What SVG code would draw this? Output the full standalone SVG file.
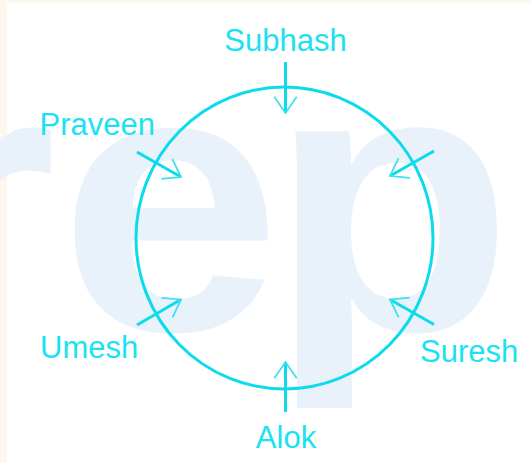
<svg xmlns="http://www.w3.org/2000/svg" width="531" height="463" viewBox="0 0 531 463">
  <defs>
    <style>
      .label { font-family: "Liberation Sans", Arial, sans-serif; font-size: 31px; fill: #1ae2f1; }
      .shaft { stroke: #0cdbec; stroke-width: 3; fill: none; stroke-linecap: butt; }
      .ring { stroke: #0cdbec; stroke-width: 3; fill: none; }
      .wm { font-family: "Liberation Sans", Arial, sans-serif; font-weight: bold; font-size: 400px; fill: #e9f1fb; }
    </style>
    <marker id="arrow" markerUnits="userSpaceOnUse" markerWidth="30" markerHeight="30" viewBox="-16 -12 20 24" refX="0" refY="0" orient="auto">
      <path d="M -13 -9 L 0 0 L -13 9" fill="none" stroke="#3ae2ef" stroke-width="1.4"/>
    </marker>
  </defs>

  <rect x="0" y="0" width="531" height="463" fill="#ffffff"/>
  <rect x="0" y="0" width="531" height="3" fill="#fdf7ee"/>
  <rect x="0" y="0" width="7" height="463" fill="#fdf7ee"/>

  <g id="watermark" transform="translate(0,330) scale(1,0.94)">
    <text class="wm" x="-99 59 269" y="0">rep</text>
  </g>

  <g id="ring">
    <ellipse class="ring" cx="284.5" cy="238" rx="148.5" ry="151"/>
  </g>

  <g id="connectors">
    <line class="shaft" x1="285.5" y1="62" x2="285.5" y2="113" marker-end="url(#arrow)"/>
    <line class="shaft" x1="285.5" y1="412" x2="285.5" y2="362" marker-end="url(#arrow)"/>
    <line class="shaft" x1="137" y1="152" x2="181" y2="177" marker-end="url(#arrow)"/>
    <line class="shaft" x1="434" y1="151" x2="390" y2="176" marker-end="url(#arrow)"/>
    <line class="shaft" x1="137" y1="325" x2="181" y2="299.5" marker-end="url(#arrow)"/>
    <line class="shaft" x1="434" y1="324.5" x2="390" y2="299.5" marker-end="url(#arrow)"/>
  </g>

  <g id="node-subhash">
    <text class="label" x="285.5" y="51" text-anchor="middle">Subhash</text>
  </g>
  <g id="node-praveen">
    <text class="label" x="39.5" y="135">Praveen</text>
  </g>
  <g id="node-umesh">
    <text class="label" x="40" y="358">Umesh</text>
  </g>
  <g id="node-suresh">
    <text class="label" x="420" y="362">Suresh</text>
  </g>
  <g id="node-alok">
    <text class="label" x="286" y="448" text-anchor="middle">Alok</text>
  </g>
</svg>
